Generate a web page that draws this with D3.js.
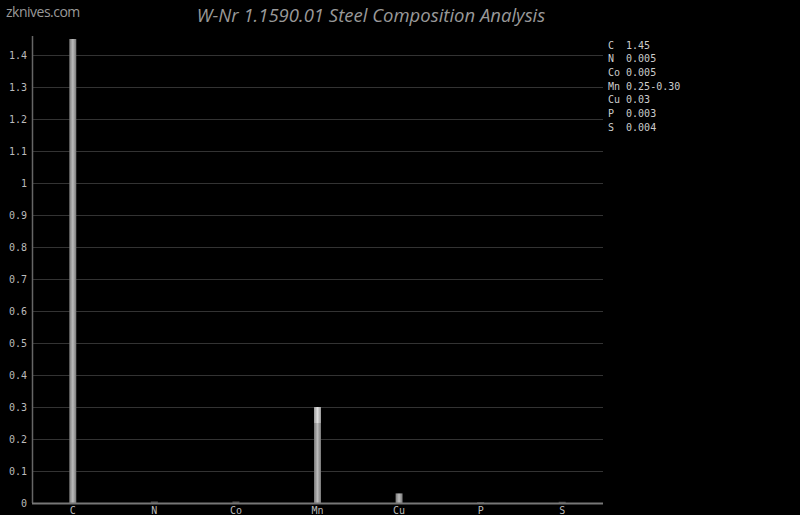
<!DOCTYPE html>
<html><head><meta charset="utf-8">
<script src="https://cdn.jsdelivr.net/npm/d3@7"></script>
<style>body{margin:0;background:#000;}svg{display:block;}</style>
</head><body>
<script>
const elements = ["C","N","Co","Mn","Cu","P","S"];
const minValues = [1.45,0.005,0.005,0.25,0.03,0.003,0.004];
const maxValues = [1.45,0.005,0.005,0.30,0.03,0.003,0.004];
const legendLabels = ["1.45","0.005","0.005","0.25-0.30","0.03","0.003","0.004"];
const yTicks = [0,0.1,0.2,0.3,0.4,0.5,0.6,0.7,0.8,0.9,1,1.1,1.2,1.3,1.4];

const W=800,H=515;
const svg=d3.select("body").append("svg").attr("width",W).attr("height",H).style("background","#000");
const m={l:32,r:197,t:36,b:12};
const x=d3.scaleBand().domain(elements).range([m.l,W-m.r]);
const y=d3.scaleLinear().domain([0,1.4]).range([H-m.b,55]);

const defs=svg.append("defs");
function grad(id,edge,center){
  const g=defs.append("linearGradient").attr("id",id).attr("x1","0").attr("x2","1").attr("y1","0").attr("y2","0");
  g.append("stop").attr("offset","0%").attr("stop-color",edge);
  g.append("stop").attr("offset","50%").attr("stop-color",center);
  g.append("stop").attr("offset","100%").attr("stop-color",edge);
}
grad("gBase","#777","#bbb");
grad("gRange","#999","#ddd");

// grid
svg.append("g").selectAll("line").data(yTicks.filter(d=>d>0)).join("line")
  .attr("x1",m.l).attr("x2",W-m.r).attr("y1",d=>Math.round(y(d))+0.5).attr("y2",d=>Math.round(y(d))+0.5)
  .attr("stroke","#333").attr("stroke-width",1);

// y tick labels
svg.append("g").selectAll("text").data(yTicks).join("text")
  .attr("x",m.l-5).attr("y",d=>y(d)+4).attr("text-anchor","end")
  .attr("fill","#bbb").attr("font-family","DejaVu Sans Mono, monospace").attr("font-size",10)
  .text(d=>d3.format("~g")(d));

// bars
const bw=7;
const bars=svg.append("g");
elements.forEach((e,i)=>{
  const cx=x(e)+x.bandwidth()/2;
  const small=maxValues[i]<0.02;
  bars.append("rect").attr("x",cx-bw/2).attr("width",bw)
    .attr("y",y(minValues[i])).attr("height",Math.max(y(0)-y(minValues[i]),1.5))
    .attr("fill",small?"#444":"url(#gBase)");
  if(maxValues[i]>minValues[i]){
    bars.append("rect").attr("x",cx-bw/2).attr("width",bw)
      .attr("y",y(maxValues[i])).attr("height",y(minValues[i])-y(maxValues[i]))
      .attr("fill","url(#gRange)");
  }
});

// axes lines
svg.append("line").attr("x1",m.l+0.5).attr("x2",m.l+0.5).attr("y1",m.t).attr("y2",y(0)).attr("stroke","#666").attr("stroke-width",1.5);
svg.append("line").attr("x1",m.l).attr("x2",W-m.r).attr("y1",y(0)+0.5).attr("y2",y(0)+0.5).attr("stroke","#777").attr("stroke-width",2);

// x labels
svg.append("g").selectAll("text").data(elements).join("text")
  .attr("x",d=>x(d)+x.bandwidth()/2).attr("y",H-1).attr("text-anchor","middle")
  .attr("fill","#bbb").attr("font-family","DejaVu Sans Mono, monospace").attr("font-size",10)
  .text(d=>d);

// legend
svg.append("g").selectAll("text").data(elements).join("text")
  .attr("x",608).attr("y",(d,i)=>48.5+i*13.7)
  .attr("fill","#ccc").attr("font-family","DejaVu Sans Mono, monospace").attr("font-size",10)
  .attr("xml:space","preserve")
  .text((d,i)=>(d.length<2?d+" ":d)+" "+legendLabels[i]);

// title
svg.append("text").attr("x",371).attr("y",22).attr("text-anchor","middle")
  .attr("fill","#999").attr("font-family","Open Sans, sans-serif").attr("font-style","italic").attr("font-size",18.5)
  .text("W-Nr 1.1590.01 Steel Composition Analysis");

// watermark
svg.append("text").attr("x",6).attr("y",17)
  .attr("fill","#999").attr("font-family","Open Sans, sans-serif").attr("font-size",14).attr("letter-spacing","-0.5")
  .text("zknives.com");
</script>
</body></html>
